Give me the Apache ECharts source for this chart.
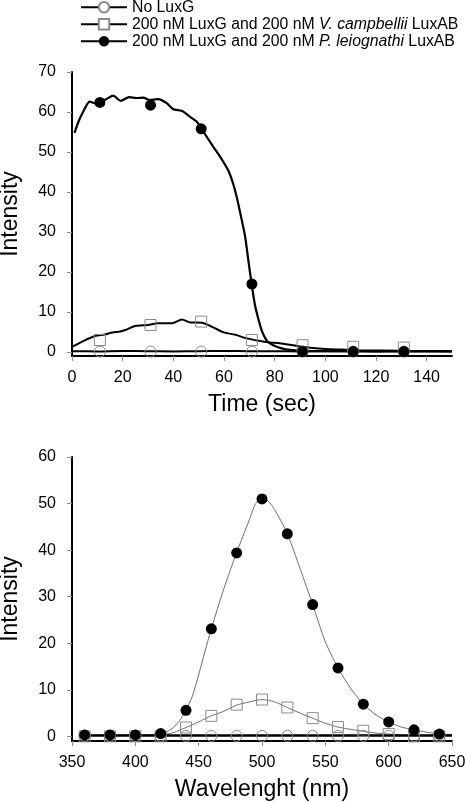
<!DOCTYPE html>
<html>
<head>
<meta charset="utf-8">
<script src="https://cdn.jsdelivr.net/npm/echarts@6/dist/echarts.min.js"></script>
<style>
html,body{margin:0;padding:0;background:#fff;}
#c{width:466px;height:802px;}
</style>
</head>
<body>
<div id="c"></div>
<script>
// ---------- DATA ----------
const seriesNames = ['No LuxG', '200 nM LuxG and 200 nM V. campbellii LuxAB', '200 nM LuxG and 200 nM P. leiognathi LuxAB'];

// Top panel: kinetics
const timeTicks = [0, 20, 40, 60, 80, 100, 120, 140];
const topIntensityTicks = [0, 10, 20, 30, 40, 50, 60, 70];
const timeNoLuxG = [[0,0.2],[10,0.15],[20,0.25],[30,0.2],[40,0.15],[50,0.2],[60,0.25],[70,0.2],[80,0.2],[90,0.15],[100,0.2],[110,0.2],[120,0.15],[130,0.2],[140,0.2],[150,0.2]];
const timeCamp = [[0,1.3],[1,1.6],[4,2.6],[9,4.0],[13,4.4],[16,4.9],[19,5.1],[21,5.5],[25,6.5],[30,6.75],[34,7.2],[39.5,7.2],[43.4,8.1],[46.7,7.4],[51.3,7.3],[55.3,6.3],[59.9,4.9],[64.5,4.3],[69,3.4],[73.7,2.8],[78,2.4],[82,2.2],[90,1.4],[100,0.75],[106,0.6],[114,0.4],[122,0.35],[135,0.25],[150,0.2]];
const timeLeio = [[1,54.8],[2.5,57.5],[4.2,59.8],[7,62.6],[9,62.2],[11,62.5],[13.5,63.2],[16.3,64.1],[19.2,62.8],[22.6,63.7],[25.5,63.5],[28.2,63.6],[30.5,63.0],[34,63.2],[37.4,62.2],[40,60.7],[43.3,60.3],[46.6,58.8],[49.2,57.6],[51.2,55.7],[55.8,51.3],[58.5,48.8],[61.5,45.6],[63.5,42.3],[65,38.8],[66.5,34.5],[68.3,29],[69.7,22.5],[70.9,17],[72.3,11.5],[73.6,8.2],[75,5.2],[76.5,3.2],[78,2.2],[80.8,1.3],[84,0.7],[87.4,0.45],[91,0.3],[100,0.2],[150,0.15]];
const markerTimes = [11, 31, 51, 71, 91, 111, 131];
const markerNoLuxG = [0.1, 0.1, 0.1, 0.1, 0.1, 0.1, 0.1];
const markerCamp = [3.0, 6.75, 7.6, 3.0, 1.7, 1.3, 1.1];
const markerLeio = [62.4, 61.7, 55.8, 17.0, 0.1, 0.1, 0.1];

// Bottom panel: emission spectra
const wlTicks = [350, 400, 450, 500, 550, 600, 650];
const bottomIntensityTicks = [0, 10, 20, 30, 40, 50, 60];
const specNoLuxG = [[360,0.2],[400,0.2],[450,0.2],[500,0.2],[550,0.2],[600,0.2],[650,0.2]];
const specCamp = [[360,0.2],[380,0.2],[400,0.2],[420,0.3],[430,0.8],[440,1.9],[450,3.1],[460,4.4],[470,5.4],[480,6.7],[490,7.4],[500,7.9],[510,7.4],[520,6.2],[530,5.0],[540,3.9],[550,2.8],[560,2.0],[570,1.5],[580,1.1],[590,0.7],[600,0.5],[610,0.3],[620,0.2],[630,0.2],[640,0.2],[650,0.2]];
const specLeio = [[360,0.3],[380,0.3],[400,0.3],[410,0.35],[420,0.6],[425,1.0],[430,1.9],[435,3.4],[440,5.6],[445,8.6],[450,13.2],[455,18.3],[460,23.1],[470,31.8],[480,39.5],[490,46.5],[495,50.0],[500,51.0],[505,50.5],[510,48.7],[520,43.5],[530,36.1],[540,28.3],[550,20.3],[560,14.7],[570,10.3],[580,6.9],[590,4.6],[600,3.1],[610,2.0],[620,1.4],[630,0.9],[640,0.5],[650,0.4]];
const markerWl = [360, 380, 400, 420, 440, 460, 480, 500, 520, 540, 560, 580, 600, 620, 640];
const markerSpecNoLuxG = [0.1, 0.1, 0.1, 0.1, 0.1, 0.1, 0.1, 0.1, 0.1, 0.1, 0.1, 0.1, 0.1, 0.1, 0.1];
const markerSpecCamp = [0.0, 0.0, 0.0, 0.0, 1.9, 4.4, 6.8, 7.9, 6.2, 3.9, 2.0, 1.2, 0.5, 0.0, 0.0];
const markerSpecLeio = [0.3, 0.3, 0.3, 0.6, 5.6, 23.1, 39.4, 51.0, 43.5, 28.3, 14.7, 6.9, 3.1, 1.4, 0.5];

// ---------- CHART ----------
const FONT = 'Liberation Sans, Arial, Helvetica, sans-serif';
const GRAY = '#8a8a8a';
const zip = (xs, ys) => xs.map((x, i) => [x, ys[i]]);

function xAxisCfg(idx, min, max, ticks, name) {
  return {
    type: 'value', gridIndex: idx, min: min, max: max,
    name: name, nameLocation: 'middle', nameGap: 37,
    nameTextStyle: {fontFamily: FONT, fontSize: 23, color: '#000'},
    axisLine: {onZero: false, lineStyle: {color: '#000', width: 2}},
    axisTick: {show: true, inside: false, length: 5, customValues: ticks, lineStyle: {color: GRAY, width: 1}},
    axisLabel: {customValues: ticks, margin: 14, fontFamily: FONT, fontSize: 16, color: '#000'},
    splitLine: {show: false}
  };
}
function yAxisCfg(idx, min, max, ticks) {
  return {
    type: 'value', gridIndex: idx, min: min, max: max,
    name: 'Intensity', nameLocation: 'middle', nameGap: 50, nameRotate: 90,
    nameTextStyle: {fontFamily: FONT, fontSize: 23, color: '#000'},
    axisLine: {onZero: false, lineStyle: {color: '#000', width: 2}},
    axisTick: {show: true, inside: false, length: 5, customValues: ticks, lineStyle: {color: GRAY, width: 1}},
    axisLabel: {customValues: ticks, margin: 16, fontFamily: FONT, fontSize: 16, color: '#000'},
    splitLine: {show: false}
  };
}
function lineS(name, idx, data, color, width, symbol, itemColor, z) {
  return {
    type: 'line', name: name, xAxisIndex: idx, yAxisIndex: idx, data: data,
    showSymbol: false, symbol: symbol, symbolSize: 11, smooth: 0.25,
    lineStyle: {color: color, width: width},
    itemStyle: {color: itemColor},
    emphasis: {disabled: true}, z: z, animation: false
  };
}
function markS(idx, data, symbol, filled, z) {
  return {
    type: 'scatter', xAxisIndex: idx, yAxisIndex: idx, data: data,
    symbol: symbol, symbolSize: 11,
    itemStyle: filled ? {color: '#000', opacity: 1} : {color: 'rgba(0,0,0,0)', borderColor: GRAY, borderWidth: 1, opacity: 1},
    emphasis: {disabled: true}, z: z, animation: false, clip: false
  };
}

const chart = echarts.init(document.getElementById('c'), null, {renderer: 'canvas'});
chart.setOption({
  backgroundColor: '#fff',
  animation: false,
  legend: {
    data: seriesNames, orient: 'vertical', left: 80, top: -1, padding: 0,
    itemWidth: 46, itemHeight: 13, itemGap: 0.5,
    textStyle: {fontFamily: FONT, fontSize: 15.8, color: '#000', lineHeight: 16.5,
      rich: {i: {fontFamily: FONT, fontSize: 15.8, fontStyle: 'italic', color: '#000'}}},
    formatter: n => n.replace('V. campbellii', '{i|V. campbellii}').replace('P. leiognathi', '{i|P. leiognathi}'),
    selectedMode: false
  },
  grid: [
    {left: 72, right: 14, top: 72, height: 284, outerBoundsMode: 'none', containLabel: false},
    {left: 72, right: 14, top: 457, height: 284, outerBoundsMode: 'none', containLabel: false}
  ],
  xAxis: [
    xAxisCfg(0, 0, 150, timeTicks, 'Time (sec)'),
    xAxisCfg(1, 350, 650, wlTicks, 'Wavelenght (nm)')
  ],
  yAxis: [
    yAxisCfg(0, -1, 70, topIntensityTicks),
    yAxisCfg(1, -1, 60, bottomIntensityTicks)
  ],
  series: [
    lineS(seriesNames[0], 0, timeNoLuxG, '#000', 2, 'emptyCircle', GRAY, 2),
    lineS(seriesNames[1], 0, timeCamp, '#000', 2, 'emptyRect', GRAY, 3),
    lineS(seriesNames[2], 0, timeLeio, '#000', 2.2, 'circle', '#000', 4),
    markS(0, zip(markerTimes, markerNoLuxG), 'circle', false, 5),
    markS(0, zip(markerTimes, markerCamp), 'rect', false, 6),
    markS(0, zip(markerTimes, markerLeio), 'circle', true, 7),

    lineS(seriesNames[1], 1, specCamp, '#6e6e6e', 1, 'emptyRect', GRAY, 2),
    lineS(seriesNames[2], 1, specLeio, '#6e6e6e', 1, 'circle', '#000', 3),
    lineS(seriesNames[0], 1, specNoLuxG, '#000', 2.5, 'emptyCircle', GRAY, 4),
    markS(1, zip(markerWl, markerSpecNoLuxG), 'circle', false, 5),
    markS(1, zip(markerWl, markerSpecCamp), 'rect', false, 6),
    markS(1, zip(markerWl, markerSpecLeio), 'circle', true, 7)
  ]
});
</script>
</body>
</html>
